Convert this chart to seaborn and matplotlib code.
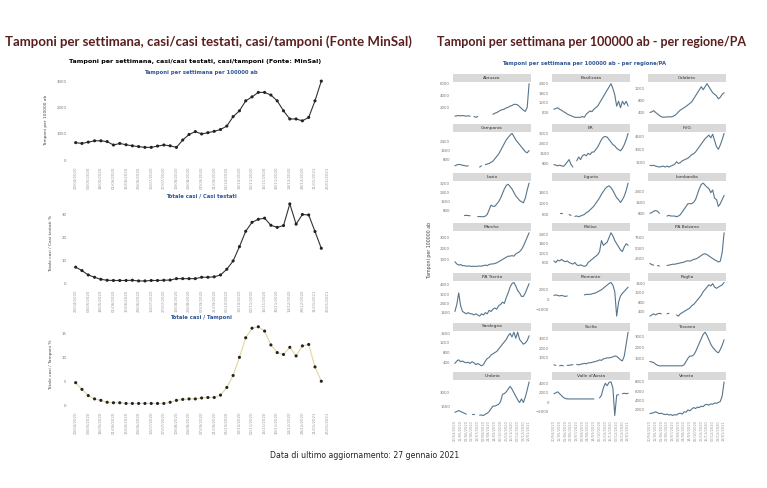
import matplotlib
matplotlib.use("Agg")
import matplotlib.pyplot as plt
import seaborn as sns
import numpy as np
import pandas as pd

sns.set_style("white")
plt.rcParams['font.family'] = ['DejaVu Sans']

nan = np.nan

# settimane (una ogni 7 giorni), etichette ogni due settimane
settimane = pd.date_range("2020-04-20", periods=41, freq="7D")

# pannello sinistro - dati nazionali (MinSal)
tamponi_100k = [660, 630, 680, 730, 730, 700, 570, 630, 580, 540,
                510, 480, 480, 530, 570, 540, 480, 760, 970, 1080,
                990, 1040, 1090, 1160, 1290, 1650, 1870, 2250, 2400, 2570,
                2570, 2470, 2250, 1870, 1560, 1560, 1490, 1620, 2250, 3000]
casi_testati = [7.0, 5.5, 3.6, 2.6, 1.7, 1.3, 1.2, 1.2, 1.2, 1.3,
                1.0, 1.0, 1.2, 1.2, 1.3, 1.4, 2.0, 2.0, 2.0, 2.0,
                2.6, 2.6, 2.8, 3.6, 6.1, 9.7, 15.9, 22.6, 26.5, 27.8,
                28.3, 25.2, 24.3, 25.1, 34.5, 25.7, 29.9, 29.7, 22.5, 15.2]
casi_tamponi = [4.7, 3.3, 2.0, 1.3, 1.0, 0.6, 0.5, 0.5, 0.35, 0.35,
                0.35, 0.35, 0.35, 0.35, 0.35, 0.6, 1.0, 1.2, 1.3, 1.3,
                1.5, 1.6, 1.6, 2.1, 3.7, 6.2, 10.0, 14.1, 16.1, 16.4,
                15.5, 12.6, 11.0, 10.6, 12.1, 10.3, 12.4, 12.7, 8.0, 5.0]

# pannello destro - tamponi per 100000 ab per regione/PA
regioni = ["Abruzzo", "Basilicata", "Calabria", "Campania", "ER", "FVG",
           "Lazio", "Liguria", "Lombardia", "Marche", "Molise", "PA Bolzano",
           "PA Trento", "Piemonte", "Puglia", "Sardegna", "Sicilia", "Toscana",
           "Umbria", "Valle d'Aosta", "Veneto"]

abruzzo = [500, 550, 600, 550, 600, 550, 500, 550, 500, nan,
           450, 300, 450, nan, 500, nan, 600, nan, 700, nan,
           800, 1000, 1100, 1300, 1500, 1600, 1700, 1900, 2000, 2200,
           2300, 2500, 2500, 2400, 2100, 1800, 1500, 1300, 2000, 6000]
basilicata = [800, 850, 900, 800, 750, 650, 600, 500, 450, 400,
              350, 300, 300, 300, 300, 350, 300, 500, 600, 700,
              650, 800, 900, 1000, 1200, 1400, 1600, 1800, 2000, 2200,
              2400, 2100, 1700, 1000, 1300, 900, 1300, 1100, 1300, 1000]
calabria = [400, 420, 460, 400, 350, 300, 260, 240, 250, 250,
            260, 250, 270, 300, 350, 420, 480, 520, 560, 600,
            650, 700, 750, 850, 950, 1050, 1150, 1250, 1150, 1250,
            1350, 1250, 1150, 1050, 1000, 950, 850, 900, 1000, 1050]
campania = [300, 380, 420, 400, 350, 320, 280, 300, nan, nan,
            nan, nan, nan, 200, 300, nan, 400, 450, 500, 600,
            700, 900, 1100, 1300, 1600, 1900, 2200, 2500, 2700, 2900,
            3050, 2800, 2500, 2300, 2100, 1900, 1700, 1500, 1400, 1600]
er = [700, 650, 600, 650, 600, 550, 700, 900, 1100, 700,
      500, nan, 1000, 1300, 1100, 1400, 1500, 1400, 1600, 1500,
      1700, 1700, 1900, 2100, 2400, 2700, 2900, 2950, 2900, 2700,
      2500, 2300, 2200, 2000, 1900, 1800, 2000, 2300, 2700, 3200]
fvg = [1200, 1150, 1200, 1100, 1050, 1000, 1050, 1100, 1000, 1100,
       1000, 1100, 1200, 1300, 1600, 1400, 1500, 1700, 1800, 1900,
       2000, 2200, 2400, 2500, 2700, 3000, 3300, 3600, 3900, 4200,
       4400, 4600, 4300, 4700, 4000, 3300, 3000, 3500, 4100, 4800]
lazio = [nan, nan, nan, nan, nan, 400, 420, 400, 380, nan,
         nan, nan, 300, 320, 300, 300, 350, 500, 900, 1300,
         1200, 1200, 1400, 1600, 1900, 2300, 2700, 3000, 3100, 2900,
         2700, 2400, 2100, 1900, 1700, 1600, 1500, 1900, 2600, 3200]
liguria = [nan, nan, nan, 700, 700, nan, nan, nan, 600, 550,
           nan, 500, 520, 480, 520, 560, 600, 700, 750, 850,
           950, 1050, 1200, 1350, 1500, 1700, 1850, 2000, 2100, 2150,
           2050, 1900, 1700, 1500, 1400, 1250, 1400, 1600, 1900, 2300]
lombardia = [800, 850, 950, 1000, 950, 800, nan, nan, nan, 600,
             650, 600, 600, 600, 550, 600, 700, 900, 1100, 1300,
             1500, 1500, 1500, 1600, 1800, 2200, 2600, 2900, 3000, 2850,
             2700, 2600, 2300, 2500, 1900, 1800, 1300, 1500, 1800, 2100]
marche = [800, 600, 500, 550, 450, 450, 400, 420, 400, 380,
          400, 380, 400, 420, 400, 450, 500, 450, 550, 600,
          600, 650, 700, 800, 900, 1000, 1100, 1200, 1300, 1300,
          1350, 1300, 1500, 1600, 1700, 1900, 2200, 2600, 3000, 3400]
molise = [700, 600, 750, 700, 800, 700, 650, 700, 600, 550,
          500, 600, 450, 400, 450, 400, 350, 400, 600, 700,
          800, 900, 1000, 1100, 1300, 2000, 1700, 1800, 1900, 2200,
          2500, 2300, 2000, 1800, 1600, 1400, 1300, 1600, 1800, 1700]
bolzano = [1500, 1200, 1100, nan, 1000, 900, nan, 800, nan, 1000,
           1100, 1200, 1300, 1300, 1400, 1500, 1600, 1700, 1800, 2000,
           2100, 2000, 2200, 2400, 2500, 2700, 3000, 3300, 3600, 3700,
           3500, 3200, 2900, 2600, 2300, 2100, 1800, 2000, 4000, 8500]
trento = [1700, 2300, 3300, 2200, 1700, 1600, 1500, 1600, 1500, 1500,
          1400, 1500, 1400, 1300, 1500, 1400, 1600, 1500, 1800, 1700,
          1900, 2000, 1900, 2200, 2300, 2500, 2400, 2900, 3300, 3800,
          4100, 4200, 3900, 3500, 3300, 3000, 3000, 3300, 3700, 4100]
piemonte = [800, 900, 800, 700, 800, 700, 600, 700, nan, nan,
            nan, nan, nan, nan, nan, nan, 900, 1000, 1000, 1000,
            1100, 1200, 1300, 1500, 1700, 1900, 2200, 2500, 2800, 3100,
            3300, 2800, 1500, -3200, -500, 700, 1200, 1600, 2000, 2400]
puglia = [200, 250, 300, 250, 300, 320, 300, nan, nan, 300,
          320, nan, nan, nan, 250, 200, 300, 350, 400, 450,
          500, 550, 650, 700, 800, 900, 1000, 1100, 1250, 1350,
          1450, 1550, 1500, 1600, 1450, 1400, 1450, 1500, 1550, 1650]
sardegna = [350, 450, 500, 420, 450, 400, 380, 400, 350, 420,
            380, 300, 350, 300, 250, 300, 450, 550, 600, 700,
            750, 800, 850, 950, 1050, 1150, 1250, 1350, 1500, 1600,
            1450, 1650, 1400, 1650, 1350, 1250, 1150, 1200, 1300, 1500]
sicilia = [300, 250, nan, 200, 250, 200, nan, 250, 250, 300,
           300, nan, 350, 300, 350, 400, 450, 400, 500, 500,
           550, 600, 650, 700, 800, 750, 900, 950, 1000, 1000,
           1050, 1100, 1200, 1150, 1000, 800, 700, 1200, 2400, 3600]
toscana = [700, 650, 600, 450, 350, 300, 300, 300, 300, 300,
           300, 300, 300, 300, 300, 300, 300, 300, 400, 700,
           1000, 1200, 1200, 1300, 1600, 2000, 2400, 2800, 3200, 3400,
           3100, 2700, 2300, 2000, 1800, 1600, 1500, 1800, 2200, 2700]
umbria = [800, 900, 1000, 900, 800, 700, 600, nan, nan, 600,
          600, nan, nan, 500, 500, 450, 600, 700, 900, 1200,
          1500, 1500, 1600, 1700, 2000, 2800, 2900, 3100, 3400, 3700,
          3400, 3000, 2600, 2200, 1900, 2300, 1900, 2500, 3300, 4200]
vda = [1800, 2000, 2200, 1800, 1400, 1000, 800, 700, 700, 700,
       700, 700, 700, 700, 700, 700, 700, 700, 700, 700,
       700, 700, nan, nan, 900, 1500, 3000, 4000, 3500, 4200,
       4300, 3000, -2800, 1500, 1600, nan, 1800, 1900, 1800, 1900]
veneto = [1200, 1300, 1400, 1600, 1400, 1200, 1300, 1100, 1000, 1100,
          900, 1000, 800, 1000, 900, 1200, 1300, 1100, 1600, 1500,
          2000, 1800, 2200, 2500, 2300, 2600, 2500, 2800, 2700, 3100,
          3200, 3000, 3300, 3200, 3500, 3400, 3600, 3800, 5000, 8000]

serie_regioni = [abruzzo, basilicata, calabria, campania, er, fvg, lazio,
                 liguria, lombardia, marche, molise, bolzano, trento, piemonte,
                 puglia, sardegna, sicilia, toscana, umbria, vda, veneto]

# ---- tabelle
n = len(tamponi_100k)
naz = pd.DataFrame({"idx": np.arange(n), "tamponi": tamponi_100k,
                    "casi_testati": casi_testati, "casi_tamponi": casi_tamponi})

pezzi = []
for r, v in zip(regioni, serie_regioni):
    d = pd.DataFrame({"regione": r, "idx": np.arange(n), "valore": v})
    # un tratto nuovo dopo ogni valore mancante, cosi' la linea resta interrotta
    d["tratto"] = d["valore"].isna().cumsum()
    pezzi.append(d)
reg = pd.concat(pezzi, ignore_index=True)

W, H = 767, 488
fig = plt.figure(figsize=(W / 100, H / 100), dpi=100)


def px_axes(l, t, w, h):
    return fig.add_axes([l / W, 1 - (t + h) / H, w / W, h / H])


TICK = "#777777"
SLIDE = "#5a1e1e"

fig.text(5 / W, 1 - 42 / H, "Tamponi per settimana, casi/casi testati, casi/tamponi (Fonte MinSal)",
         fontsize=9.5, color=SLIDE, va="center", ha="left", family="Lato", weight="bold")
fig.text(437 / W, 1 - 42 / H, "Tamponi per settimana per 100000 ab - per regione/PA",
         fontsize=9.0, color=SLIDE, va="center", ha="left", family="Lato", weight="bold")
fig.text(195 / W, 1 - 62 / H, "Tamponi per settimana, casi/casi testati, casi/tamponi (Fonte: MinSal)",
         fontsize=4.6, color="black", weight="bold", ha="center", va="center")

# ---- tre pannelli nazionali
tick_pos = np.arange(0, n + 1, 2)
tick_lab = [settimane[i].strftime("%d/%m/%Y") for i in tick_pos]

pannelli = [
    ("tamponi", "Tamponi per settimana per 100000 ab", "Tamponi per 100000 ab",
     77, (-114, 3156), [0, 1000, 2000, 3000], "#333333"),
    ("casi_testati", "Totale casi / Casi testati", "Totale casi / Casi testati %",
     200, (-1.2, 36.2), [0, 10, 20, 30], "#333333"),
    ("casi_tamponi", "Totale casi / Tamponi", "Totale casi / Tamponi %",
     322, (-0.6, 17.4), [0, 5, 10, 15], "#e6d49a"),
]
for col, titolo, ylab, top, ylim, yt, lc in pannelli:
    ax = px_axes(70, top, 262, 86)
    sns.lineplot(data=naz, x="idx", y=col, ax=ax, color=lc, lw=0.8)
    sns.scatterplot(data=naz, x="idx", y=col, ax=ax, color="#222222", s=5,
                    edgecolor="none", zorder=3)
    ax.set_xlim(-0.9, 40.7)
    ax.set_ylim(*ylim)
    ax.set_xticks(tick_pos)
    ax.set_xticklabels(tick_lab, rotation=90, fontsize=2.8, color="#999999")
    ax.set_yticks(yt)
    ax.set_yticklabels([str(t) for t in yt], fontsize=2.8, color=TICK)
    ax.tick_params(length=1.5, width=0.4, pad=1, color="#aaaaaa")
    ax.set_xlabel("")
    ax.set_ylabel(ylab, fontsize=3.2, color="#444444", labelpad=6)
    ax.set_title(titolo, fontsize=3.8, color="#2f5597", weight="bold", pad=2)
    sns.despine(ax=ax, left=True, bottom=True)

# ---- facet per regione
col_x = [453, 552, 648]
pw = 78
strip_h = 8
reg_ticks = np.arange(0, n, 3)
reg_lab = [settimane[i].strftime("%d/%m/%Y") for i in reg_ticks]

for k, r in enumerate(regioni):
    row, cc = divmod(k, 3)
    st = 74 + row * 49.7
    sax = px_axes(col_x[cc], st, pw, strip_h)
    sax.set_facecolor("#d9d9d9")
    sax.set_xticks([])
    sax.set_yticks([])
    sns.despine(ax=sax, left=True, bottom=True)
    sax.text(0.5, 0.5, r, transform=sax.transAxes, ha="center", va="center",
             fontsize=3.2, color="#333333")

    ax = px_axes(col_x[cc], st + strip_h, pw, 37)
    sub = reg[(reg["regione"] == r) & reg["valore"].notna()]
    sns.lineplot(data=sub, x="idx", y="valore", units="tratto", estimator=None,
                 ax=ax, color="#56758c", lw=0.8)
    ax.set_xlim(-1, n)
    ax.yaxis.set_major_locator(plt.MaxNLocator(4))
    ax.tick_params(axis="y", labelsize=2.8, labelcolor=TICK, length=1.2,
                   width=0.4, pad=1, color="#aaaaaa")
    ax.set_xticks(reg_ticks)
    if row == 6:
        ax.set_xticklabels(reg_lab, rotation=90, fontsize=2.6, color="#999999")
        ax.tick_params(axis="x", length=1.2, width=0.4, pad=1, color="#aaaaaa")
    else:
        ax.set_xticklabels([])
        ax.tick_params(axis="x", length=0)
    ax.set_xlabel("")
    ax.set_ylabel("")
    sns.despine(ax=ax, left=True, bottom=True)

fig.text(584 / W, 1 - 63 / H, "Tamponi per settimana per 100000 ab - per regione/PA",
         fontsize=3.8, color="#2f5597", weight="bold", ha="center", va="center")
fig.text(430 / W, 1 - 250 / H, "Tamponi per 100000 ab", rotation=90,
         fontsize=3.4, color="#444444", ha="center", va="center")

fig.text(270 / W, 1 - 455 / H, "Data di ultimo aggiornamento: 27 gennaio 2021",
         fontsize=5.6, color="#222222", ha="left", va="center")

fig.savefig("out.png", dpi=100, facecolor="white")
